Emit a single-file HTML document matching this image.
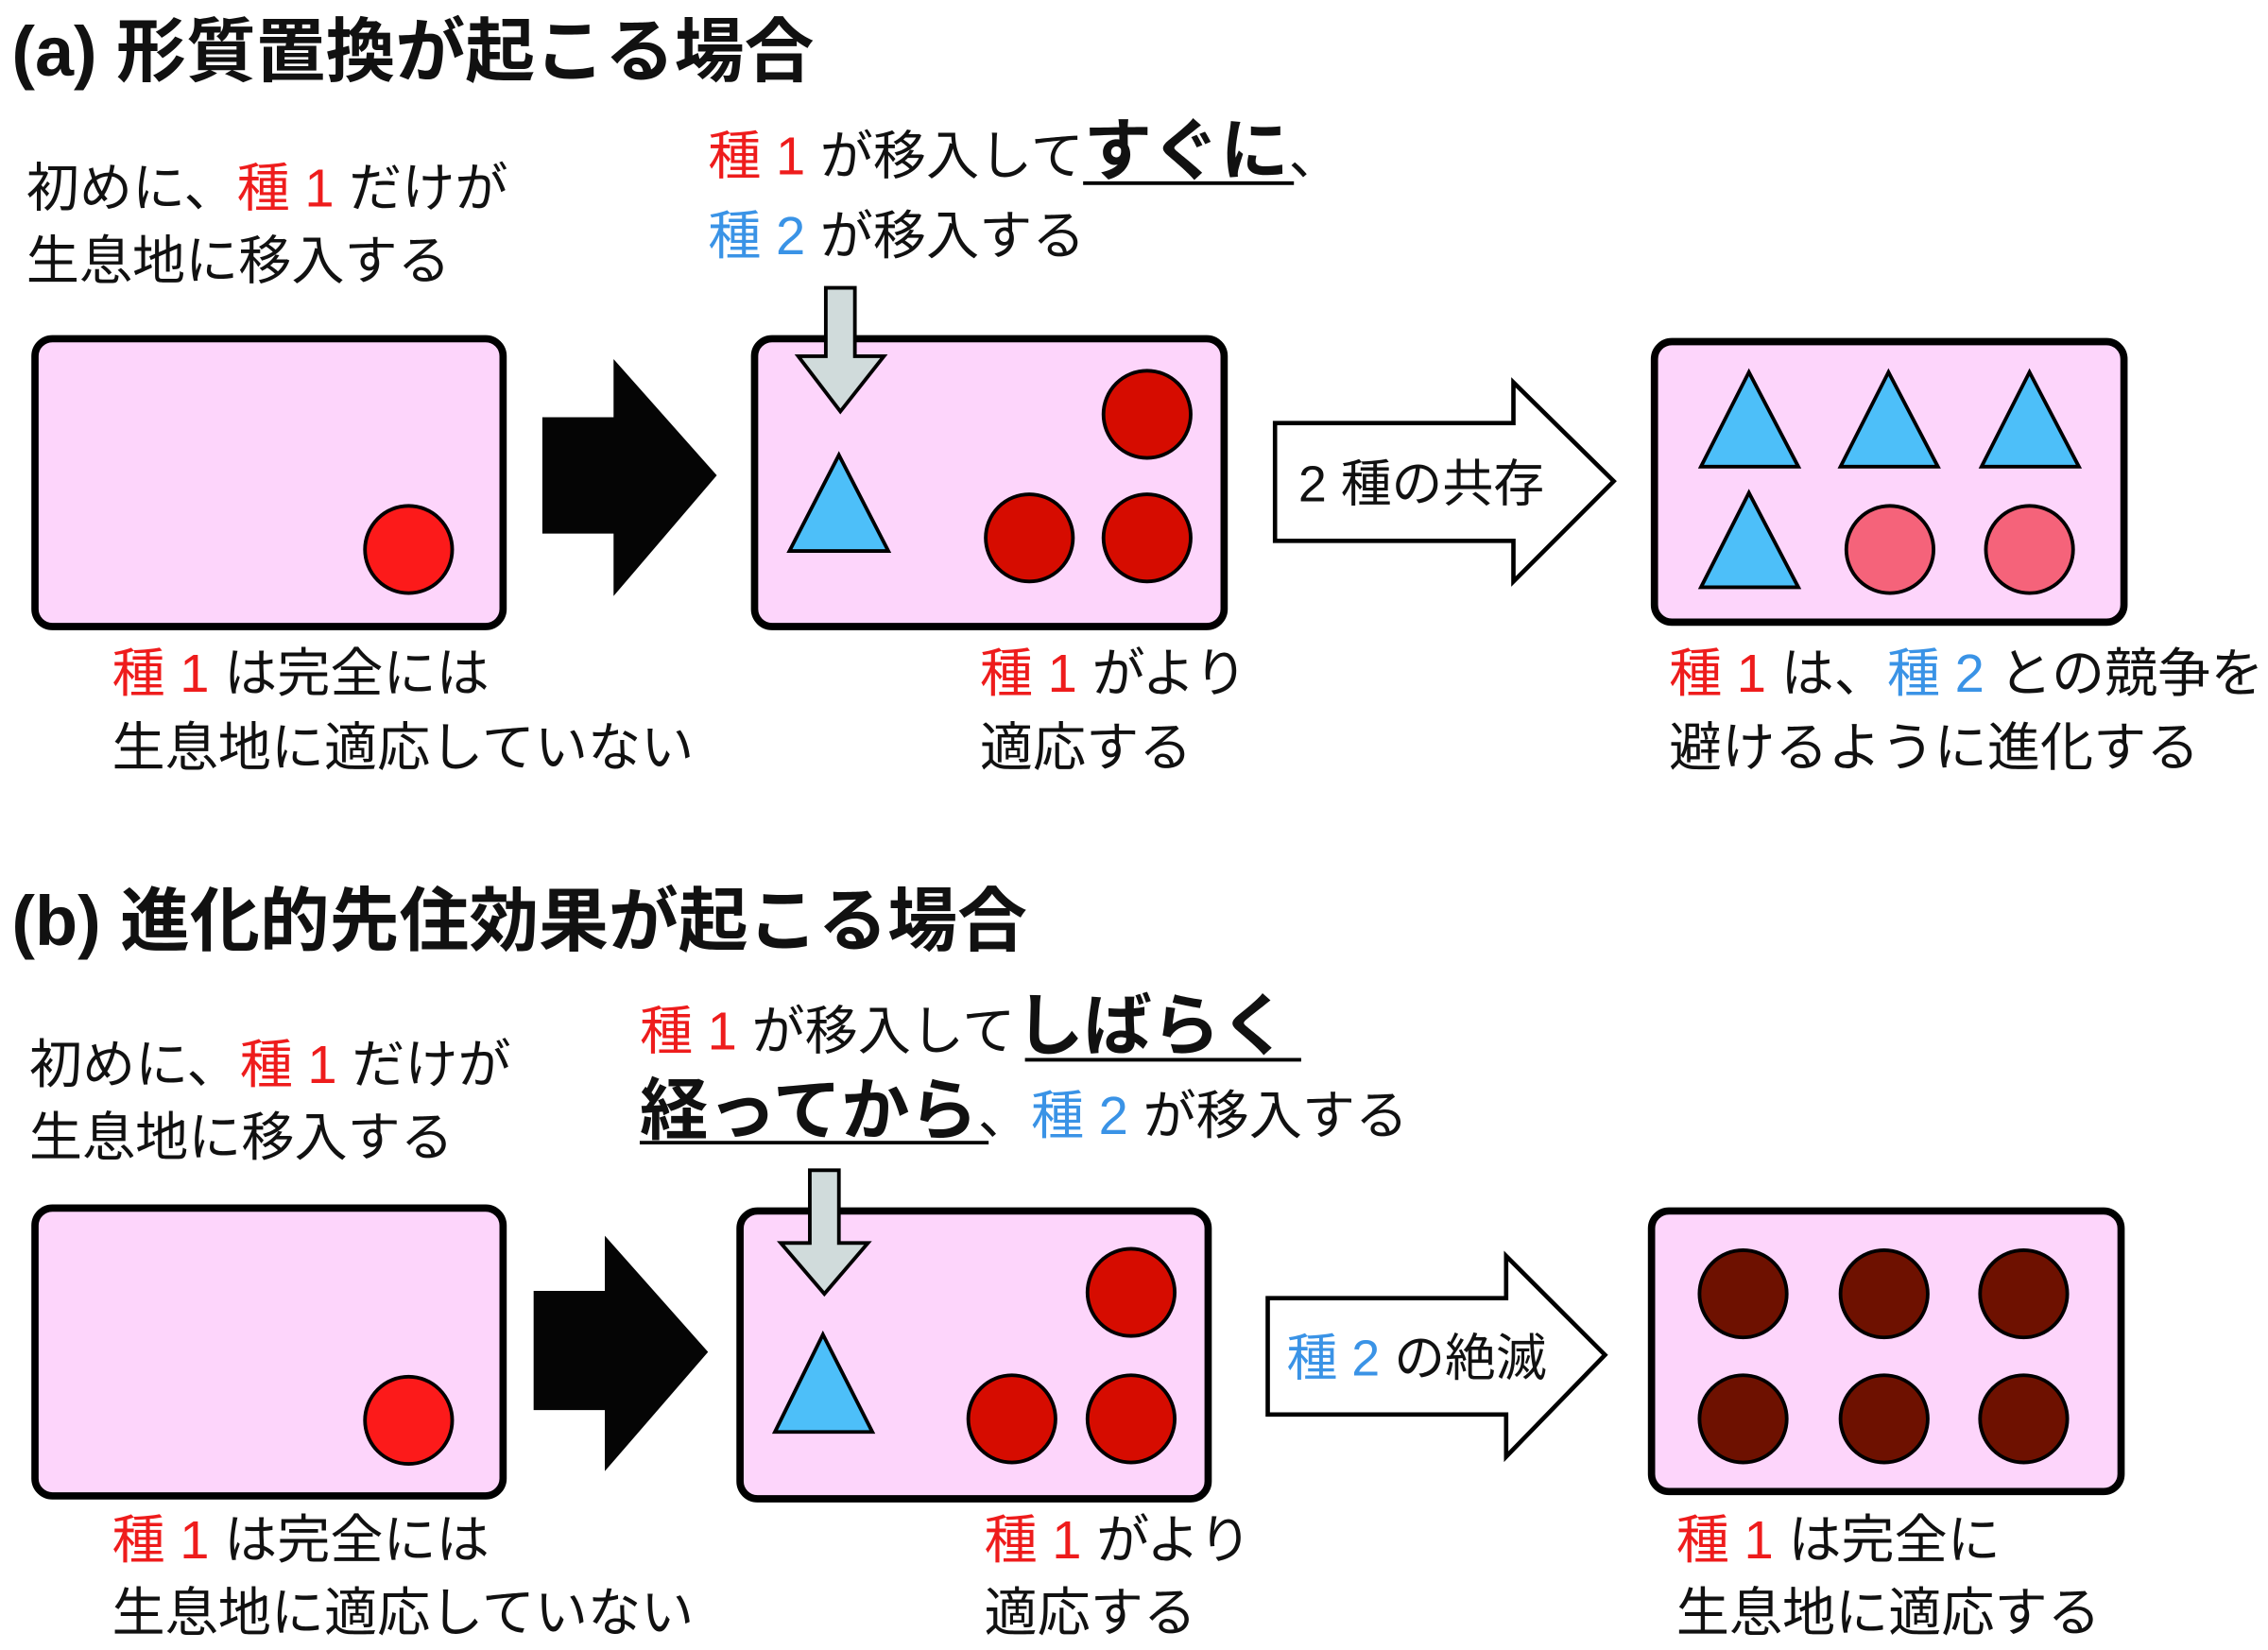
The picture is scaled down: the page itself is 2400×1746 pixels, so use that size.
<!DOCTYPE html>
<html><head><meta charset="utf-8"><style>
html,body{margin:0;padding:0;background:#fff}
svg{display:block}
text{font-family:"Liberation Sans","Noto Sans CJK JP",sans-serif;fill:#111}
.t{font-size:36.5px}
.h{font-size:48px;font-weight:bold}
.b{font-size:47px;font-weight:bold}
.r{fill:#ee1c1c}
.bl{fill:#3a93e6}
</style></head><body>
<svg width="2400" height="1746" viewBox="0 0 1560 1135" xmlns="http://www.w3.org/2000/svg">
<g stroke="#000">
<rect x="24" y="233" width="322" height="198" rx="12" fill="#fdd5fb" stroke-width="5"/>
<circle cx="281" cy="378" r="30" fill="#fc1a1a" stroke-width="2.5"/>
<rect x="519" y="233" width="323" height="198" rx="12" fill="#fdd5fb" stroke-width="5"/>
<polygon points="568,198 588,198 588,245 608,245 578,283 549,245 568,245" fill="#d0dbdb" stroke-width="2.5"/>
<polygon points="577,313 543,379 611,379" fill="#4dbff9" stroke-width="2.5"/>
<circle cx="789" cy="285" r="30" fill="#d60c00" stroke-width="2.5"/>
<circle cx="708" cy="370" r="30" fill="#d60c00" stroke-width="2.5"/>
<circle cx="789" cy="370" r="30" fill="#d60c00" stroke-width="2.5"/>
<rect x="1138" y="235" width="323" height="193" rx="12" fill="#fdd5fb" stroke-width="5"/>
<polygon points="1203,256 1170,321 1237,321" fill="#4dbff9" stroke-width="2.5"/>
<polygon points="1299,256 1266,321 1333,321" fill="#4dbff9" stroke-width="2.5"/>
<polygon points="1396,256 1363,321 1430,321" fill="#4dbff9" stroke-width="2.5"/>
<polygon points="1203,339 1170,404 1237,404" fill="#4dbff9" stroke-width="2.5"/>
<circle cx="1300" cy="378" r="30" fill="#f5637a" stroke-width="2.5"/>
<circle cx="1396" cy="378" r="30" fill="#f5637a" stroke-width="2.5"/>
<polygon points="373,287 422,287 422,247 493,327 422,410 422,367 373,367" fill="#050505" stroke="none"/>
<polygon points="877,291 1041,291 1041,263 1110,331 1041,400 1041,372 877,372" fill="#fff" stroke-width="3"/>
<rect x="24" y="831" width="322" height="198" rx="12" fill="#fdd5fb" stroke-width="5"/>
<circle cx="281" cy="977" r="30" fill="#fc1a1a" stroke-width="2.5"/>
<rect x="509" y="833" width="322" height="198" rx="12" fill="#fdd5fb" stroke-width="5"/>
<polygon points="557,805 577,805 577,855 597,855 567,890 537,855 557,855" fill="#d0dbdb" stroke-width="2.5"/>
<polygon points="566,918 533,985 600,985" fill="#4dbff9" stroke-width="2.5"/>
<circle cx="778" cy="889" r="30" fill="#d60c00" stroke-width="2.5"/>
<circle cx="696" cy="976" r="30" fill="#d60c00" stroke-width="2.5"/>
<circle cx="778" cy="976" r="30" fill="#d60c00" stroke-width="2.5"/>
<rect x="1136" y="833" width="323" height="193" rx="12" fill="#fdd5fb" stroke-width="5"/>
<g fill="#6e1100" stroke-width="2.5">
<circle cx="1199" cy="890" r="30"/><circle cx="1296" cy="890" r="30"/><circle cx="1392" cy="890" r="30"/>
<circle cx="1199" cy="976" r="30"/><circle cx="1296" cy="976" r="30"/><circle cx="1392" cy="976" r="30"/>
</g>
<polygon points="367,888 416,888 416,850 487,930 416,1012 416,970 367,970" fill="#050505" stroke="none"/>
<polygon points="872,893 1036,893 1036,864 1104,932 1036,1002 1036,973 872,973" fill="#fff" stroke-width="3"/>
<line x1="745" y1="126" x2="890" y2="126" stroke-width="2.5"/>
<line x1="705" y1="729" x2="895" y2="729" stroke-width="2.5"/>
<line x1="440" y1="786" x2="680" y2="786" stroke-width="2.5"/>
</g>

<text class="h" x="8" y="52">(a) 形質置換が起こる場合</text>
<text class="t" x="18" y="142">初めに、<tspan class="r">種 1</tspan> だけが</text>
<text class="t" x="18" y="192">生息地に移入する</text>
<text class="t" x="487" y="120"><tspan class="r">種 1</tspan> が移入して<tspan class="b">すぐに</tspan>、</text>
<text class="t" x="487" y="175"><tspan class="bl">種 2</tspan> が移入する</text>
<text class="t" x="893" y="345" style="font-size:35px">2 種の共存</text>
<text class="t" x="77" y="476"><tspan class="r">種 1</tspan> は完全には</text>
<text class="t" x="77" y="527">生息地に適応していない</text>
<text class="t" x="674" y="476"><tspan class="r">種 1</tspan> がより</text>
<text class="t" x="674" y="527">適応する</text>
<text class="t" x="1148" y="476"><tspan class="r">種 1</tspan> は、<tspan class="bl">種 2</tspan> との競争を</text>
<text class="t" x="1148" y="527">避けるように進化する</text>

<text class="h" x="8" y="650">(b) 進化的先住効果が起こる場合</text>
<text class="t" x="20" y="745">初めに、<tspan class="r">種 1</tspan> だけが</text>
<text class="t" x="20" y="795">生息地に移入する</text>
<text class="t" x="440" y="722"><tspan class="r">種 1</tspan> が移入して<tspan class="b">しばらく</tspan></text>
<text class="t" x="440" y="780"><tspan class="b">経ってから</tspan>、<tspan class="bl">種 2</tspan> が移入する</text>
<text class="t" x="885" y="946" style="font-size:35px"><tspan class="bl">種 2</tspan> の絶滅</text>
<text class="t" x="77" y="1072"><tspan class="r">種 1</tspan> は完全には</text>
<text class="t" x="77" y="1122">生息地に適応していない</text>
<text class="t" x="677" y="1072"><tspan class="r">種 1</tspan> がより</text>
<text class="t" x="677" y="1122">適応する</text>
<text class="t" x="1153" y="1072"><tspan class="r">種 1</tspan> は完全に</text>
<text class="t" x="1153" y="1122">生息地に適応する</text>
</svg>
</body></html>
